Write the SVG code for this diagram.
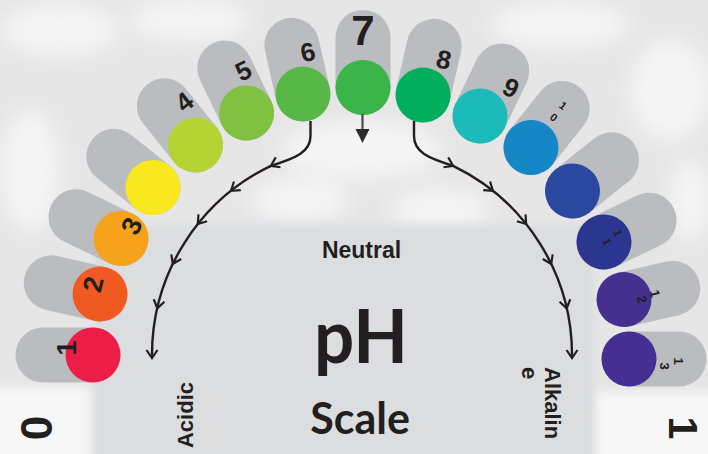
<svg xmlns="http://www.w3.org/2000/svg" width="708" height="454" viewBox="0 0 708 454">
<defs>
<style>
.tab{stroke:#BBBCC0;stroke-width:55;stroke-linecap:round;fill:none}
.num{font-family:"Liberation Sans",Arial,sans-serif;font-weight:bold;fill:#231F20;text-anchor:middle}
.lbl{font-family:"Liberation Sans",Arial,sans-serif;font-weight:bold;fill:#231F20}
.arc{fill:none;stroke:#231F20;stroke-width:2.4}
.chev{fill:none;stroke:#231F20;stroke-width:2.2;stroke-linejoin:miter}
</style>
<filter id="blur" x="-50%" y="-50%" width="200%" height="200%"><feGaussianBlur stdDeviation="10"/></filter>
<filter id="blur2" x="-20%" y="-20%" width="140%" height="140%"><feGaussianBlur stdDeviation="4"/></filter>
<path id="chev" class="chev" d="M-8,-5.5 L0,0 L-8,5.5"/>
</defs>

<g id="background">
<rect x="0" y="0" width="708" height="454" fill="#E6E6E7"/>
<g filter="url(#blur)" fill="#FFFFFF" opacity="0.6">
<ellipse cx="60" cy="30" rx="60" ry="25"/>
<ellipse cx="190" cy="20" rx="60" ry="20"/>
<ellipse cx="560" cy="25" rx="70" ry="22"/>
<ellipse cx="670" cy="90" rx="40" ry="50"/>
<ellipse cx="30" cy="170" rx="30" ry="60"/>
<ellipse cx="690" cy="200" rx="20" ry="40"/>
<ellipse cx="362" cy="150" rx="80" ry="28"/>
<ellipse cx="300" cy="200" rx="50" ry="20"/>
<ellipse cx="440" cy="210" rx="50" ry="20"/>
</g>
<rect x="94" y="225" width="500" height="250" fill="#DCDDDF" filter="url(#blur2)"/>
<g filter="url(#blur2)">
<rect x="-10" y="388" width="100" height="76" fill="#F7F7F7"/>
<rect x="597" y="392" width="121" height="72" fill="#F7F7F7"/>
</g>
</g>

<g id="node-1" transform="translate(93,355) rotate(-90)">
<line class="tab" x1="0" y1="0" x2="0" y2="-50"/>
<circle r="27.5" fill="#EC1D47"/>
<text class="num" x="7" y="-17.5" font-size="27">1</text>
</g>
<g id="node-2" transform="translate(100,294) rotate(-77.14)">
<line class="tab" x1="0" y1="0" x2="0" y2="-50"/>
<circle r="27.5" fill="#F05A22"/>
<text class="num" x="8" y="0.5" font-size="27">2</text>
</g>
<g id="node-3" transform="translate(121,238.5) rotate(-64.29)">
<line class="tab" x1="0" y1="0" x2="0" y2="-50"/>
<circle r="27.5" fill="#F6A31B"/>
<text class="num" x="16" y="13.5" font-size="27">3</text>
</g>
<g id="node-yellow" transform="translate(153,187.5) rotate(-51.43)">
<line class="tab" x1="0" y1="0" x2="0" y2="-50"/>
<circle r="27.5" fill="#F9E81E"/>
</g>
<g id="node-4" transform="translate(195.5,145) rotate(-38.57)">
<line class="tab" x1="0" y1="0" x2="0" y2="-50"/>
<circle r="27.5" fill="#B6D333"/>
<text class="num" x="18" y="-31.7" font-size="26">4</text>
</g>
<g id="node-5" transform="translate(246.5,113) rotate(-25.71)">
<line class="tab" x1="0" y1="0" x2="0" y2="-50"/>
<circle r="27.5" fill="#80C142"/>
<text class="num" x="15.5" y="-30.4" font-size="26">5</text>
</g>
<g id="node-6" transform="translate(303,94) rotate(-12.86)">
<line class="tab" x1="0" y1="0" x2="0" y2="-50"/>
<circle r="27.5" fill="#57B848"/>
<text class="num" x="14" y="-30.7" font-size="26">6</text>
</g>
<g id="node-7" transform="translate(363,87.5)">
<line class="tab" x1="0" y1="0" x2="0" y2="-50"/>
<circle r="27.5" fill="#3BB44A"/>
<text class="num" x="0" y="-42.5" font-size="42">7</text>
</g>
<g id="node-8" transform="translate(423,95) rotate(12.86)">
<line class="tab" x1="0" y1="0" x2="0" y2="-50"/>
<circle r="27.5" fill="#00AE5B"/>
<text class="num" x="12.5" y="-30.2" font-size="26">8</text>
</g>
<g id="node-9" transform="translate(480,116) rotate(25.71)">
<line class="tab" x1="0" y1="0" x2="0" y2="-50"/>
<circle r="27.5" fill="#1CBBBA"/>
<text class="num" x="15.5" y="-29.9" font-size="26">9</text>
</g>
<g id="node-10" transform="translate(531,147.5) rotate(38.57)">
<line class="tab" x1="0" y1="0" x2="0" y2="-50"/>
<circle r="27.5" fill="#1687C6"/>
<text class="num" x="-1" y="-49" font-size="11">1</text>
<text class="num" x="-1" y="-34" font-size="11">0</text>
</g>
<g id="node-darkblue" transform="translate(572.5,191) rotate(51.43)">
<line class="tab" x1="0" y1="0" x2="0" y2="-50"/>
<circle r="27.5" fill="#2A48A0"/>
</g>
<g id="node-11" transform="translate(604,242) rotate(64.29)">
<line class="tab" x1="0" y1="0" x2="0" y2="-50"/>
<circle r="27.5" fill="#2B3690"/>
<text class="num" x="-2" y="-12.5" font-size="11">1</text>
<text class="num" x="1" y="1" font-size="11">1</text>
</g>
<g id="node-12" transform="translate(624,299.5) rotate(77.14)">
<line class="tab" x1="0" y1="0" x2="0" y2="-50"/>
<circle r="27.5" fill="#44308F"/>
<text class="num" x="1" y="-27" font-size="13">1</text>
<text class="num" x="4" y="-13" font-size="13">2</text>
</g>
<g id="node-13" transform="translate(629,359) rotate(90)">
<line class="tab" x1="0" y1="0" x2="0" y2="-50"/>
<circle r="27.5" fill="#452F92"/>
<text class="num" x="2" y="-44.5" font-size="13">1</text>
<text class="num" x="7" y="-30.5" font-size="13">3</text>
</g>

<g id="connectors">
<path class="arc" d="M310.5,121 L310.5,136 C310.5,152 296,158 270.9,165.8 A210,210 0 0 0 152,355 L152,357"/>
<path class="arc" d="M414,121 L414,136 C414,152 428,158 453.1,165.8 A210,210 0 0 1 572,355 L572,357"/>
<use href="#chev" transform="translate(270.9,165.8) rotate(154.29)"/>
<use href="#chev" transform="translate(231.1,190.8) rotate(141.43)"/>
<use href="#chev" transform="translate(197.8,224.1) rotate(128.57)"/>
<use href="#chev" transform="translate(172.8,263.9) rotate(115.71)"/>
<use href="#chev" transform="translate(157.3,308.3) rotate(102.86)"/>
<use href="#chev" transform="translate(152,358) rotate(90)"/>
<use href="#chev" transform="translate(453.1,165.8) rotate(25.71)"/>
<use href="#chev" transform="translate(492.9,190.8) rotate(38.57)"/>
<use href="#chev" transform="translate(526.2,224.1) rotate(51.43)"/>
<use href="#chev" transform="translate(551.2,263.9) rotate(64.29)"/>
<use href="#chev" transform="translate(566.7,308.3) rotate(77.14)"/>
<use href="#chev" transform="translate(572,358) rotate(90)"/>
<line x1="362.5" y1="114" x2="362.5" y2="131" stroke="#4A4A4A" stroke-width="2.2"/>
<polygon points="355.5,129 369.5,129 362.5,143" fill="#2A2A2A"/>
</g>

<g id="labels">
<text class="lbl" x="361.5" y="258" font-size="23" text-anchor="middle">Neutral</text>
<text x="361" y="363" font-family="Lato,'Open Sans',sans-serif" font-weight="bold" font-size="74" fill="#231F20" text-anchor="middle" textLength="94" lengthAdjust="spacingAndGlyphs">pH</text>
<text x="360" y="434" font-family="Lato,'Open Sans',sans-serif" font-weight="bold" font-size="43" fill="#231F20" text-anchor="middle">Scale</text>
<text class="lbl" transform="translate(193,415) rotate(-90)" font-size="22" text-anchor="middle">Acidic</text>
<text class="lbl" transform="translate(545,367) rotate(90)" font-size="22">Alkalin</text>
<text class="lbl" transform="translate(522,367) rotate(90)" font-size="22">e</text>
<text class="lbl" transform="translate(52,428) rotate(-90)" font-size="44" text-anchor="middle">0</text>
<text class="lbl" transform="translate(669,428) rotate(90)" font-size="41" text-anchor="middle">1</text>
</g>
</svg>
